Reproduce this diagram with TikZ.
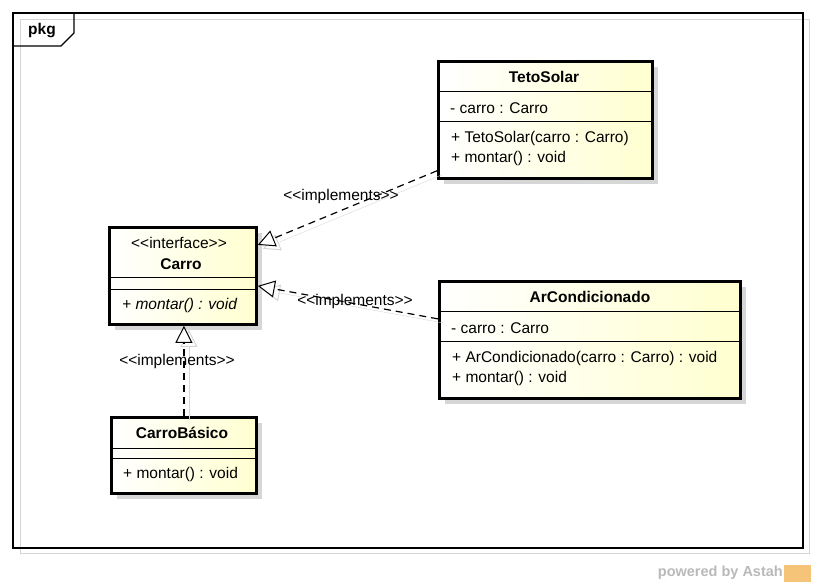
\documentclass[tikz,border=0pt]{standalone}
\usepackage{fontspec}
\setmainfont{Liberation Sans}
\usetikzlibrary{arrows.meta,shadows}
\definecolor{classyellow}{RGB}{255,255,208}
\definecolor{shadowgray}{RGB}{214,214,214}
\definecolor{astahorange}{RGB}{246,196,120}
\tikzset{
  classbox/.style={draw=black,line width=2.8pt,left color=white,right color=classyellow,
    anchor=north west,inner sep=0pt,
    drop shadow={shadow xshift=6pt,shadow yshift=-6pt,fill=shadowgray,opacity=1}},
  member/.style={anchor=west,inner sep=0pt,font=\fontsize{15.5}{18}\selectfont},
  title/.style={inner sep=0pt,font=\bfseries\fontsize{15.5}{18}\selectfont},
  stereo/.style={inner sep=0pt,font=\fontsize{15.5}{18}\selectfont},
  realizes/.style={line width=1.2pt,dash pattern=on 7pt off 5pt,
    -{Triangle[fill=white,length=17pt,width=17pt,line width=1pt]},
    preaction={draw=shadowgray,solid,-{Triangle[fill=white,length=17pt,width=17pt,line width=1pt]},
      transform canvas={shift={(5pt,-4pt)}}}}
}
\begin{document}
\begin{tikzpicture}[x=1pt,y=-1pt]
\useasboundingbox (0,0) rectangle (816,586);
% frame
	\draw[shadowgray,line width=1pt] (20,20) rectangle (809,553);
	\draw[line width=1.3pt] (13,13) rectangle (803,548);
	\draw[line width=1.3pt] (13,46) -- (61,46) -- (74,33) -- (74,13);
	\node[title] (pkg) at (42,31) {pkg};

% classes
	\node[classbox,minimum width=214pt,minimum height=117pt] (teto) at (437,60) {};
	\draw[line width=1pt] ([yshift=-31pt]teto.north west) -- ([yshift=-31pt]teto.north east);
	\draw[line width=1pt] ([yshift=-61pt]teto.north west) -- ([yshift=-61pt]teto.north east);
	\node[title] (tetoname) at (544,77) {TetoSolar};
	\node[member] (tetoattr) at (450,108) {- carro : Carro};
	\node[member] (tetoop1) at (451,138) {+ TetoSolar(carro : Carro)};
	\node[member] (tetoop2) at (451,158) {+ montar() : void};

	\node[classbox,minimum width=301pt,minimum height=117pt] (arc) at (438,280) {};
	\draw[line width=1pt] ([yshift=-31pt]arc.north west) -- ([yshift=-31pt]arc.north east);
	\draw[line width=1pt] ([yshift=-61pt]arc.north west) -- ([yshift=-61pt]arc.north east);
	\node[title] (arcname) at (590,297) {ArCondicionado};
	\node[member] (arcattr) at (451,328) {- carro : Carro};
	\node[member] (arcop1) at (452,358) {+ ArCondicionado(carro : Carro) : void};
	\node[member] (arcop2) at (452,378) {+ montar() : void};

	\node[classbox,minimum width=147pt,minimum height=97pt] (carro) at (108,226) {};
	\draw[line width=1pt] ([yshift=-51pt]carro.north west) -- ([yshift=-51pt]carro.north east);
	\draw[line width=1pt] ([yshift=-63pt]carro.north west) -- ([yshift=-63pt]carro.north east);
	\node[stereo] (carrostereo) at (179,243) {<{}<interface>{}>};
	\node[title] (carroname) at (181,264) {Carro};
	\node[member,font=\itshape\fontsize{15.5}{18}\selectfont] (carroop) at (122,305) {+ montar() : void};

	\node[classbox,minimum width=145pt,minimum height=76pt] (basico) at (110,416) {};
	\draw[line width=1pt] ([yshift=-32pt]basico.north west) -- ([yshift=-32pt]basico.north east);
	\draw[line width=1pt] ([yshift=-42pt]basico.north west) -- ([yshift=-42pt]basico.north east);
	\node[title] (basiconame) at (182,433) {CarroBásico};
	\node[member] (basicoop) at (123,474) {+ montar() : void};

%Links
	\draw[realizes] ([yshift=9pt]teto.south west) -- ([yshift=31pt]carro.east);
	\draw[realizes] ([yshift=21pt]arc.west) -- ([yshift=-10pt]carro.east);
	\draw[realizes] (basico.north) -- (basico.north |- carro.south);
	\node[stereo] (tetolabel) at (341,196) {<{}<implements>{}>};
	\node[stereo] (arclabel) at (355,301) {<{}<implements>{}>};
	\node[stereo] (basicolabel) at (177,361) {<{}<implements>{}>};

% logo
	\node[anchor=east,inner sep=0pt,text=gray!55,font=\bfseries\fontsize{14.5}{16}\selectfont] (powered) at (783,573) {powered by Astah};
	\fill[astahorange] (784,565) rectangle (811,582);
\end{tikzpicture}
\end{document}
